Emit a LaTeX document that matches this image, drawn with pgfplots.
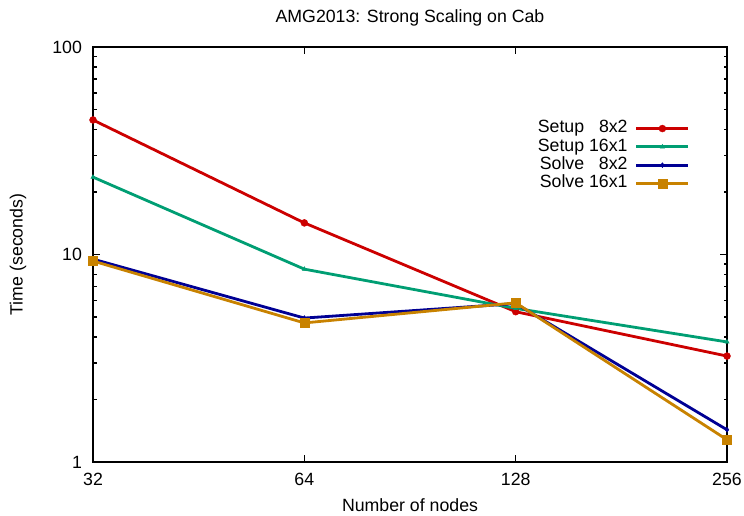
\documentclass[border=0pt]{standalone}
\usepackage{fontspec}
\setmainfont{Liberation Sans}
\usepackage{pgfplots}
\pgfplotsset{compat=1.18}
\definecolor{cred}{RGB}{204,0,0}
\definecolor{cgreen}{RGB}{0,158,115}
\definecolor{cblue}{RGB}{0,0,148}
\definecolor{corange}{RGB}{200,130,0}
\begin{document}
\fontsize{17.8}{21}\selectfont
\begin{tikzpicture}
\useasboundingbox (0,0) rectangle (744bp,516bp);
\begin{axis}[
 at={(93bp,54bp)}, anchor=south west,
 scale only axis, width=634bp, height=415bp,
 xmode=log, log basis x=2, ymode=log,
 xmin=32, xmax=256, ymin=1, ymax=100,
 xtick={32,64,128,256}, xticklabels={32,64,128,256},
 ytick={1,10,100}, yticklabels={1,10,100},
 minor xtick={},
 tick align=inside,
 major tick length=7bp, minor tick length=3.5bp,
 axis line style={line width=2bp},
 every tick/.style={black, line width=1.6bp},
 xticklabel style={yshift=-5bp},
 yticklabel style={xshift=-5bp},
 title={AMG2013: Strong Scaling on Cab},
 xlabel={Number of nodes}, ylabel={Time (seconds)},
 every axis title/.style={at={(axis description cs:0.5,1)}, yshift=29bp, anchor=center},
 every axis x label/.style={at={(axis description cs:0.5,0)}, yshift=-43bp, anchor=center},
 every axis y label/.style={at={(axis description cs:0,0.5)}, xshift=-75bp, rotate=90, anchor=center},
 clip=false,
 legend plot pos=right,
 legend cell align=right,
 legend image code/.code={\draw[mark repeat=2,mark phase=2,#1] plot coordinates {(0bp,0bp)(26bp,0bp)(52bp,0bp)};},
 legend style={draw=none, fill=none, inner sep=0pt, row sep=0pt,
   font=\fontsize{17.8}{21}\selectfont,
   at={(axis description cs:0.9416,0.826)}, anchor=north east,
   nodes={inner sep=1.4bp, text height=12bp, text depth=3.5bp},
   /tikz/every odd column/.append style={column sep=6bp}},
 every axis plot/.append style={line width=2.8bp},
]
\addplot[cred, mark=*, mark size=3.5bp, mark options={solid, line width=0.4bp}]
  coordinates {(32,44.5)(64,14.2)(128,5.3)(256,3.24)};
\addlegendentry{Setup \hphantom{1}8x2}
\addplot[cgreen, mark=triangle*, mark size=2.5bp, mark options={solid, line width=0.4bp}]
  coordinates {(32,23.6)(64,8.5)(128,5.5)(256,3.79)};
\addlegendentry{Setup 16x1}
\addplot[cblue, mark=diamond*, mark size=2.5bp, mark options={solid, line width=0.4bp}]
  coordinates {(32,9.5)(64,4.94)(128,5.8)(256,1.43)};
\addlegendentry{Solve \hphantom{1}8x2}
\addplot[corange, mark=square*, mark size=4.5bp, mark options={solid, line width=0.4bp}]
  coordinates {(32,9.3)(64,4.68)(128,5.85)(256,1.28)};
\addlegendentry{Solve 16x1}
\end{axis}
\end{tikzpicture}
\end{document}
